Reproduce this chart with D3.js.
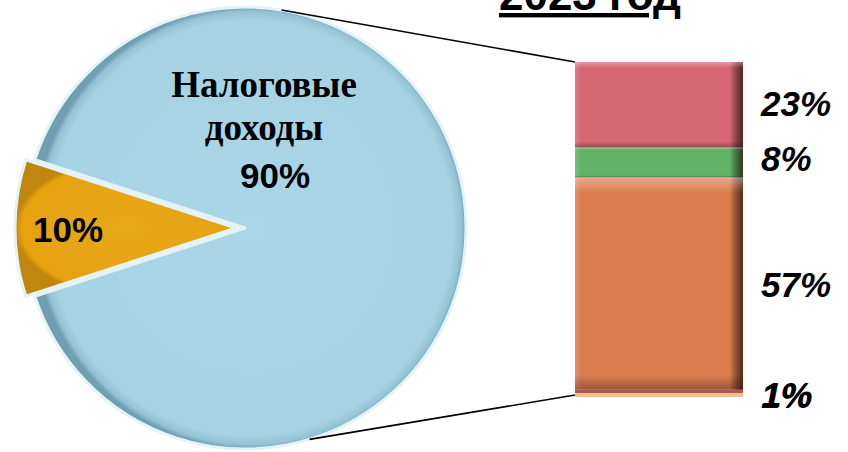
<!DOCTYPE html>
<html><head><meta charset="utf-8">
<script src="https://cdn.jsdelivr.net/npm/d3@7"></script>
<style>html,body{margin:0;padding:0;background:#fff;}svg{display:block;}</style>
</head><body>
<svg id="chart" width="848" height="452"></svg>
<script>
// ---- data ----
const titleText = "2023 год";
const pieCategories = ["Налоговые доходы", "Неналоговые доходы"];
const pieValues = [90, 10];
const pieLabels = ["90%", "10%"];
const pieColors = ["#a7d5e5", "#e7a412"];
const barCategories = ["c1", "c2", "c3", "c4", "c5"]; // top to bottom
const barValues = [23, 8, 57, 1, 1];
const barLabels = ["23%", "8%", "57%", "1%", "1%"];
const barColors = ["#d66672", "#62b267", "#db7d4f", "#b5524f", "#eac391"];

const svg = d3.select("#chart");
const defs = svg.append("defs");

// gradients
const rg = defs.append("radialGradient").attr("id","blueG");
rg.append("stop").attr("offset","0%").attr("stop-color","#aad7e7");
rg.append("stop").attr("offset","94%").attr("stop-color","#a6d3e3");
rg.append("stop").attr("offset","98%").attr("stop-color","#92c2d3");
rg.append("stop").attr("offset","100%").attr("stop-color","#6f9fb2");
const og = defs.append("radialGradient").attr("id","orangeG");
og.append("stop").attr("offset","0%").attr("stop-color","#e9a814");
og.append("stop").attr("offset","94%").attr("stop-color","#e6a211");
og.append("stop").attr("offset","100%").attr("stop-color","#c08610");
const hg = defs.append("linearGradient").attr("id","barH").attr("x1","0").attr("x2","1").attr("y1","0").attr("y2","0");
hg.append("stop").attr("offset","0%").attr("stop-color","#fff").attr("stop-opacity",0.15);
hg.append("stop").attr("offset","4%").attr("stop-color","#fff").attr("stop-opacity",0);
hg.append("stop").attr("offset","92%").attr("stop-color","#000").attr("stop-opacity",0);
hg.append("stop").attr("offset","100%").attr("stop-color","#2a1205").attr("stop-opacity",0.75);
const vg = defs.append("linearGradient").attr("id","barV").attr("x1","0").attr("x2","0").attr("y1","0").attr("y2","1");
vg.append("stop").attr("offset","0%").attr("stop-color","#fff").attr("stop-opacity",0.35);
vg.append("stop").attr("offset","7%").attr("stop-color","#fff").attr("stop-opacity",0);
vg.append("stop").attr("offset","93%").attr("stop-color","#000").attr("stop-opacity",0);
vg.append("stop").attr("offset","100%").attr("stop-color","#000").attr("stop-opacity",0.3);
const blur = defs.append("filter").attr("id","soft").attr("x","-10%").attr("y","-10%").attr("width","120%").attr("height","120%");
blur.append("feGaussianBlur").attr("stdDeviation",0.6);

// ---- pie ----
const cx = 245, cy = 228, R = 221;
const rad = d => d * Math.PI / 180;
const pie = d3.pie().sort(null).startAngle(rad(288)).endAngle(rad(648));
const arcs = pie(pieValues);
const arc = d3.arc().innerRadius(0).outerRadius(R);
const explode = [0, 9];
const gPie = svg.append("g").attr("transform", `translate(${cx},${cy})`);
gPie.selectAll("path").data(arcs).join("path")
  .attr("transform", (d,i) => {
    const m = (d.startAngle + d.endAngle) / 2;
    return `translate(${Math.sin(m)*explode[i]},${-Math.cos(m)*explode[i]})`;
  })
  .attr("d", arc)
  .attr("fill", (d,i) => i === 0 ? "url(#blueG)" : "url(#orangeG)")
  .attr("stroke", "#e4f3f8")
  .attr("stroke-width", 3)
  .attr("stroke-linejoin","round")
  .attr("filter","url(#soft)");

// pie labels
const serif = "'Liberation Serif','Times New Roman',serif";
const sans = "'Liberation Sans',Arial,sans-serif";
gPie.append("text").attr("x", 19).attr("y", -131)
  .attr("text-anchor","middle").attr("font-family",serif).attr("font-weight","bold").attr("font-size",37)
  .text(pieCategories[0].split(" ")[0]);
gPie.append("text").attr("x", 19).attr("y", -88)
  .attr("text-anchor","middle").attr("font-family",serif).attr("font-weight","bold").attr("font-size",37)
  .text(pieCategories[0].split(" ")[1]);
gPie.append("text").attr("x", 30).attr("y", -40)
  .attr("text-anchor","middle").attr("font-family",sans).attr("font-weight","bold").attr("font-size",35)
  .text(pieLabels[0]);
gPie.append("text").attr("x", -177).attr("y", 14)
  .attr("text-anchor","middle").attr("font-family",sans).attr("font-weight","bold").attr("font-size",35)
  .text(pieLabels[1]);

// ---- bar ----
const barX0 = 575, barX1 = 743, barTop = 62, barBottom = 397;
const total = d3.sum(barValues);
const y = d3.scaleLinear().domain([0, total]).range([barTop, barBottom]);
let acc = 0;
const segs = barValues.map((v,i) => { const s = {i, v, y0: acc, y1: acc + v}; acc += v; return s; });
const gBar = svg.append("g");
gBar.selectAll("rect.seg").data(segs).join("rect").attr("class","seg")
  .attr("x", barX0).attr("width", barX1 - barX0)
  .attr("y", d => y(d.y0)).attr("height", d => y(d.y1) - y(d.y0))
  .attr("fill", d => barColors[d.i]);
gBar.selectAll("rect.sh").data(segs.filter(d => d.v > 2)).join("rect").attr("class","sh")
  .attr("x", barX0).attr("width", barX1 - barX0)
  .attr("y", d => y(d.y0)).attr("height", d => y(d.y1) - y(d.y0))
  .attr("fill", "url(#barH)");
gBar.selectAll("rect.sv").data(segs.filter(d => d.v > 2)).join("rect").attr("class","sv")
  .attr("x", barX0).attr("width", barX1 - barX0)
  .attr("y", d => y(d.y0)).attr("height", d => y(d.y1) - y(d.y0))
  .attr("fill", "url(#barV)");

// bar labels
const labOff = [11, 8, 14, 16, 13];
const labDx = [0, 0, 0, 1, 0];
gBar.selectAll("text").data(segs).join("text")
  .attr("x", d => 761 + labDx[d.i])
  .attr("y", d => (y(d.y0) + y(d.y1)) / 2 + labOff[d.i])
  .attr("font-family", sans).attr("font-weight","bold").attr("font-style","italic")
  .attr("font-size", 35)
  .text(d => barLabels[d.i]);

// ---- connector lines ----
const topAng = rad(9.5), botAng = rad(163);
svg.append("line")
  .attr("x1", cx + Math.sin(topAng)*R).attr("y1", cy - Math.cos(topAng)*R)
  .attr("x2", barX0).attr("y2", y(0))
  .attr("stroke","#000").attr("stroke-width",1.6);
svg.append("line")
  .attr("x1", cx + Math.sin(botAng)*R).attr("y1", cy - Math.cos(botAng)*R)
  .attr("x2", barX0).attr("y2", y(total) - 2)
  .attr("stroke","#000").attr("stroke-width",1.6);

// ---- title ----
svg.append("text").attr("x", 590).attr("y", 10)
  .attr("text-anchor","middle").attr("font-family",sans).attr("font-weight","bold")
  .attr("font-size",44).attr("text-decoration","underline")
  .text(titleText);
</script>
</body></html>
